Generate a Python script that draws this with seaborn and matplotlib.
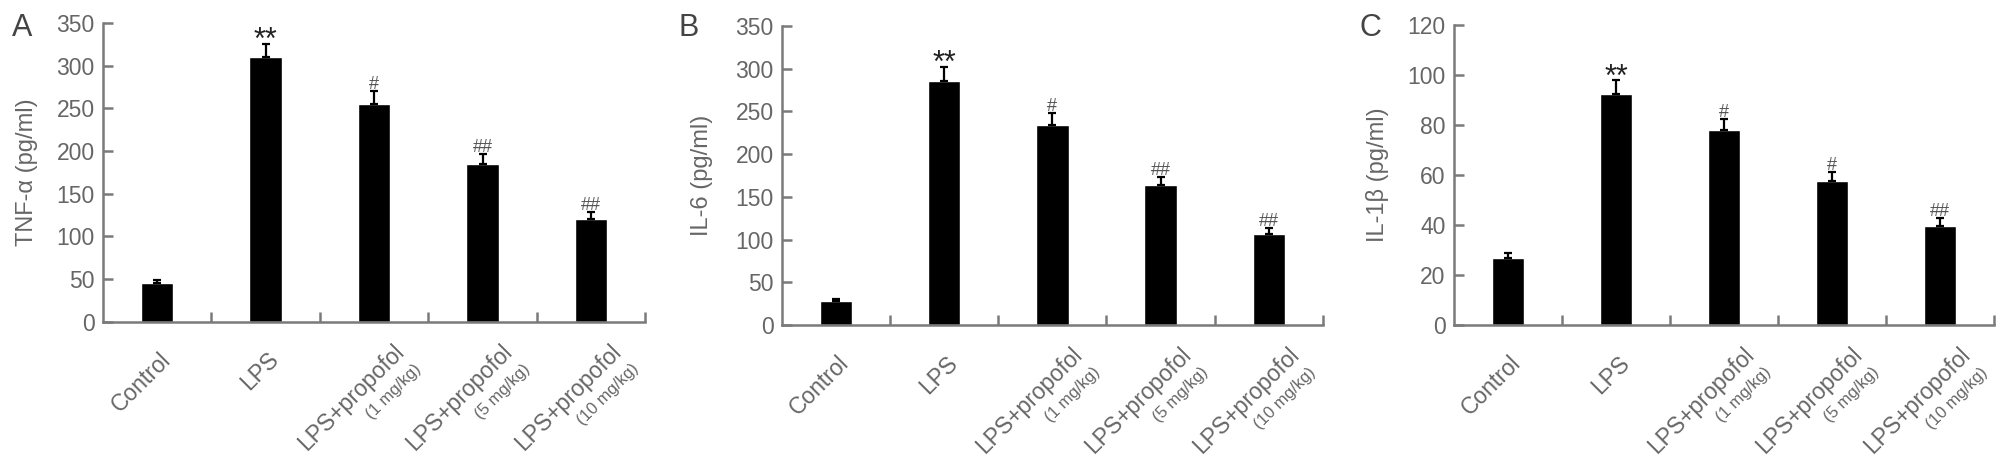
import numpy as np
import pandas as pd
import matplotlib
matplotlib.use("Agg")
import matplotlib.pyplot as plt
import seaborn as sns

# --- DATA ---
groups = ["Control", "LPS", "LPS+propofol (1 mg/kg)",
          "LPS+propofol (5 mg/kg)", "LPS+propofol (10 mg/kg)"]
main_labels = ["Control", "LPS", "LPS+propofol", "LPS+propofol", "LPS+propofol"]
dose_labels = ["", "", "(1 mg/kg)", "(5 mg/kg)", "(10 mg/kg)"]

tnf_mean = [45, 310, 255, 185, 120]
tnf_err = [4, 16, 15, 12, 8]
tnf_marks = ["", "**", "#", "##", "##"]

il6_mean = [28, 286, 234, 164, 106]
il6_err = [3, 16, 14, 9.5, 7]
il6_marks = ["", "**", "#", "##", "##"]

il1b_mean = [27, 92.5, 78, 57.5, 39.5]
il1b_err = [2, 5.5, 4.5, 3.7, 3.2]
il1b_marks = ["", "**", "#", "#", "##"]

TEXT_GREY = "#666666"
AXIS_GREY = "#7a7a7a"

sns.set_style("ticks")
plt.rcParams["font.family"] = ["Liberation Sans", "DejaVu Sans"]

fig = plt.figure(figsize=(20.08, 4.69), dpi=100)

panels = [
    # letter, ylabel, means, errs, marks, ymax, step, rect, letter x, ylabel x
    ("A", "TNF-\u03b1 (pg/ml)", tnf_mean, tnf_err, tnf_marks, 350, 50,
     [0.0513, 0.3143, 0.2700, 0.6364], 0.006, -0.120),
    ("B", "IL-6 (pg/ml)", il6_mean, il6_err, il6_marks, 350, 50,
     [0.3894, 0.3070, 0.2694, 0.6380], 0.338, -0.128),
    ("C", "IL-1\u03b2 (pg/ml)", il1b_mean, il1b_err, il1b_marks, 120, 20,
     [0.7241, 0.3070, 0.2689, 0.6397], 0.677, -0.120),
]

for letter, ylab, means, errs, marks, ymax, step, rect, lx, ylx in panels:
    ax = fig.add_axes(rect)
    df = pd.DataFrame({"group": groups, "value": means})
    sns.barplot(data=df, x="group", y="value", color="black", saturation=1,
                width=0.3, errorbar=None, ax=ax)
    x = np.arange(len(groups))
    ax.errorbar(x, means, yerr=[np.zeros(len(errs)), errs], fmt="none",
                ecolor="black", elinewidth=1.6, capsize=3, capthick=1.6)

    ax.set_xlim(-0.5, 4.5)
    ax.set_ylim(0, ymax)
    ax.set_yticks(np.arange(0, ymax + 1, step))
    ax.set_xlabel("")
    ax.set_ylabel(ylab, fontsize=17, color=TEXT_GREY)
    ax.yaxis.set_label_coords(ylx, 0.5)

    for side in ["top", "right"]:
        ax.spines[side].set_visible(False)
    for side in ["left", "bottom"]:
        ax.spines[side].set_color(AXIS_GREY)
        ax.spines[side].set_linewidth(1.8)

    ax.tick_params(axis="y", direction="in", length=7, width=1.8,
                   color=AXIS_GREY, labelcolor=TEXT_GREY, labelsize=16.5, pad=6)
    ax.tick_params(axis="x", which="major", length=0, labelbottom=False)
    ax.set_xticks(x + 0.5, minor=True)
    ax.tick_params(axis="x", which="minor", direction="in", length=7,
                   width=1.8, color=AXIS_GREY)

    # category labels, rotated, with the dose on a smaller second line
    for i in range(len(groups)):
        if dose_labels[i]:
            ax.annotate(main_labels[i], xy=(i, 0), xycoords=("data", "axes fraction"),
                        xytext=(13.3, -13.3), textcoords="offset points",
                        rotation=45, rotation_mode="anchor", ha="right", va="top",
                        fontsize=16.5, color=TEXT_GREY, annotation_clip=False)
            ax.annotate(dose_labels[i], xy=(i, 0), xycoords=("data", "axes fraction"),
                        xytext=(28.5, -28.5), textcoords="offset points",
                        rotation=45, rotation_mode="anchor", ha="right", va="top",
                        fontsize=12, color=TEXT_GREY, annotation_clip=False)
        else:
            ax.annotate(main_labels[i], xy=(i, 0), xycoords=("data", "axes fraction"),
                        xytext=(1.2, -19), textcoords="offset points",
                        rotation=45, rotation_mode="anchor", ha="right", va="top",
                        fontsize=16.5, color=TEXT_GREY, annotation_clip=False)

    # significance marks
    for i, m in enumerate(marks):
        if not m:
            continue
        top = means[i] + errs[i]
        if m == "**":
            ax.annotate(m, xy=(i, top), xytext=(0, -4), textcoords="offset points",
                        ha="center", va="baseline", fontsize=22, color="#222222",
                        annotation_clip=False)
        else:
            ax.annotate(m, xy=(i, top), xytext=(0, 1.5), textcoords="offset points",
                        ha="center", va="baseline", fontsize=13, color="#555555",
                        annotation_clip=False)

    fig.text(lx, 0.923, letter, fontsize=22, color="#444444", va="baseline")

fig.savefig("out.png", dpi=100)
